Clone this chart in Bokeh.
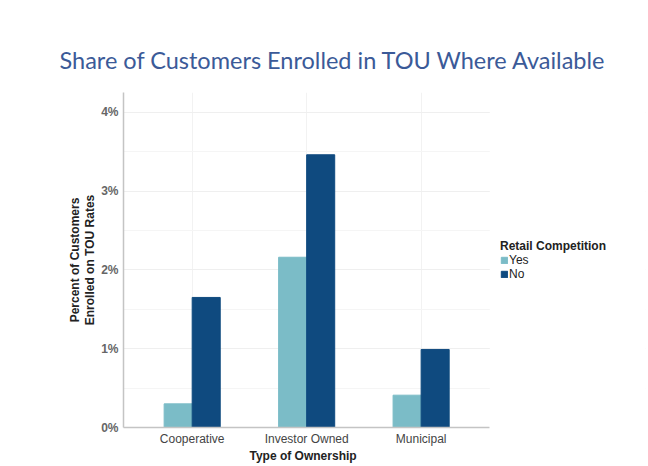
from bokeh.plotting import figure
from bokeh.models import (Range1d, FixedTicker, PrintfTickFormatter, BoxAnnotation,
                          Legend, LegendItem, Title, ColumnDataSource)
from bokeh.transform import dodge
from bokeh.embed import file_html
from bokeh.resources import INLINE

categories = ["Cooperative", "Investor Owned", "Municipal"]
yes_values = [0.30, 2.16, 0.41]
no_values = [1.65, 3.46, 0.99]
y_ticks = [0, 1, 2, 3, 4]
y_minor = [0.5, 1.5, 2.5, 3.5]
series_labels = ["Yes", "No"]

YES_COLOR = "#7bbcc7"
NO_COLOR = "#0f4a7f"

x_idx = list(range(len(categories)))
src = ColumnDataSource(dict(x=x_idx, cat=categories, yes=yes_values, no=no_values))

X_START, X_AXIS_END, X_END = -0.6, len(categories) - 0.4, 3.96

p = figure(width=648, height=466, output_backend="svg", toolbar_location=None,
           x_range=Range1d(X_START, X_END), y_range=Range1d(0, 4.25),
           min_border_left=123, min_border_right=3, min_border_top=92, min_border_bottom=39)

p.add_layout(Title(text="Share of Customers Enrolled in TOU Where Available",
                   text_font="Lato", text_font_size="23.5px", text_font_style="normal",
                   text_color="#3b5a98", align="left", offset=-64, standoff=37), "above")

r_yes = p.vbar(x=dodge("x", -0.1225), top="yes", width=0.245,
               source=src, fill_color=YES_COLOR, line_color=YES_COLOR)
r_no = p.vbar(x=dodge("x", 0.1225), top="no", width=0.245,
              source=src, fill_color=NO_COLOR, line_color=NO_COLOR)

p.outline_line_color = None
p.background_fill_color = "white"
p.border_fill_color = "white"

p.yaxis.ticker = FixedTicker(ticks=y_ticks, minor_ticks=y_minor)
p.yaxis.formatter = PrintfTickFormatter(format="%d%%")
p.yaxis.major_label_text_font = "Liberation Sans"
p.yaxis.major_label_text_font_style = "bold"
p.yaxis.major_label_text_font_size = "12px"
p.yaxis.major_label_text_color = "#666666"
p.yaxis.major_label_standoff = 5
p.yaxis.axis_label = "Percent of Customers\nEnrolled on TOU Rates"
p.yaxis.axis_label_text_font = "Liberation Sans"
p.yaxis.axis_label_text_font_style = "bold"
p.yaxis.axis_label_text_font_size = "12px"
p.yaxis.axis_label_text_color = "#222222"
p.yaxis.axis_label_text_line_height = 1.05
p.yaxis.axis_label_standoff = 1

p.xaxis.ticker = FixedTicker(ticks=x_idx)
p.xaxis.major_label_overrides = {i: c for i, c in zip(x_idx, categories)}
p.xaxis.bounds = (X_START, X_AXIS_END)
p.xaxis.major_label_text_font = "Liberation Sans"
p.xaxis.major_label_text_font_size = "12px"
p.xaxis.major_label_text_color = "#444444"
p.xaxis.major_label_standoff = 4

# x-axis title, centred under the axis line (not under the whole frame)
p.add_layout(Title(text="Type of Ownership", text_font="Liberation Sans",
                   text_font_style="bold", text_font_size="12px", text_color="#222222",
                   align="left", offset=126, standoff=-4), "below")

for ax in (p.xaxis, p.yaxis):
    ax.axis_line_color = "#c4c4c4"
    ax.axis_line_width = 1.5
    ax.major_tick_line_color = None
    ax.minor_tick_line_color = None
    ax.major_tick_out = 0
    ax.major_tick_in = 0
    ax.minor_tick_out = 0
    ax.minor_tick_in = 0

p.ygrid.grid_line_color = "#efefef"
p.ygrid.minor_grid_line_color = "#f5f5f5"
p.xgrid.grid_line_color = "#f2f2f2"

# blank out the grid to the right of the plotting area (legend zone)
p.add_layout(BoxAnnotation(left=X_AXIS_END, fill_color="white", fill_alpha=1.0,
                           line_color=None))

legend = Legend(items=[LegendItem(label=series_labels[0], renderers=[r_yes]),
                       LegendItem(label=series_labels[1], renderers=[r_no])],
                title="Retail Competition", location=(377, 146),
                title_text_font="Liberation Sans", title_text_font_style="bold",
                title_text_font_size="12px", title_text_color="#222222",
                title_standoff=-3,
                label_text_font="Liberation Sans", label_text_font_size="12px",
                label_text_color="#222222",
                label_height=8, glyph_height=8, glyph_width=8,
                label_standoff=1, spacing=-8, padding=0, margin=0,
                border_line_color=None, background_fill_alpha=0)
p.add_layout(legend, "center")

open("out.html", "w").write(file_html(p, INLINE))
